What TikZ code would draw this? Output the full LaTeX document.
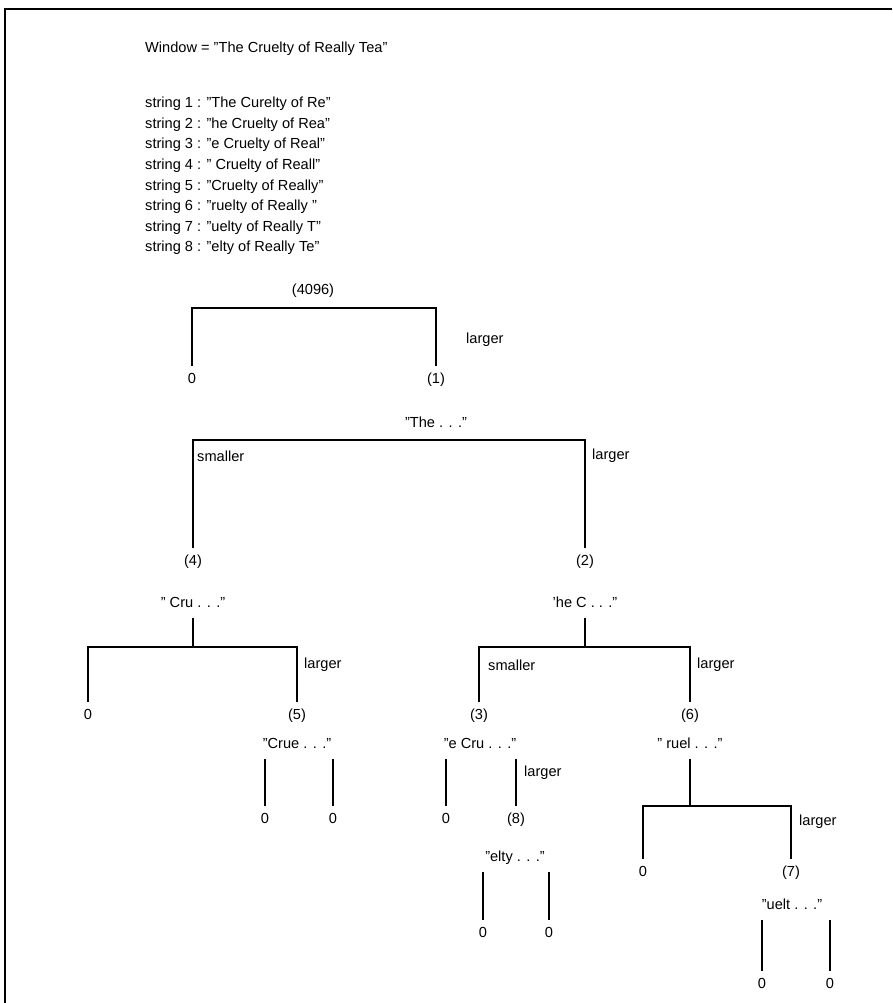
\documentclass[tikz,border=0pt]{standalone}
\usepackage{fontspec}
\setmainfont[Ligatures=ResetAll]{Liberation Sans}
\begin{document}
\begin{tikzpicture}[x=1pt,y=-1pt,
  txt/.style={font=\fontsize{14.6}{17}\selectfont, inner sep=0pt},
  lab/.style={txt, text height=10pt, text depth=3pt, outer sep=8pt},
  side/.style={txt, anchor=west},
  edge/.style={line width=1.3pt, line cap=rect},
  frameline/.style={line width=2pt}]
\useasboundingbox (0,0) rectangle (892,1003);
% frame
\coordinate (fTL) at (5,9);
\coordinate (fTR) at (892,9);
\coordinate (fBL) at (5,1003);
\draw[frameline] (fTR) -- (fTL) -- (fBL);
% header text
\node[side, anchor=base west] (win) at (145,53) {Window = "The Cruelty of Really Tea"};
\node[side, anchor=base west] (s1) at (145,108) {string 1 : "The Curelty of Re"};
\node[side, anchor=base west] (s2) at (145,128.5) {string 2 : "he Cruelty of Rea"};
\node[side, anchor=base west] (s3) at (145,149) {string 3 : "e Cruelty of Real"};
\node[side, anchor=base west] (s4) at (145,169.5) {string 4 : " Cruelty of Reall"};
\node[side, anchor=base west] (s5) at (145,190) {string 5 : "Cruelty of Really"};
\node[side, anchor=base west] (s6) at (145,210.5) {string 6 : "ruelty of Really "};
\node[side, anchor=base west] (s7) at (145,231) {string 7 : "uelty of Really T"};
\node[side, anchor=base west] (s8) at (145,251.5) {string 8 : "elty of Really Te"};
% level 0
\node[lab] (root) at (313,291) {(4096)};
\node[lab] (z0) at (192,380) {0};
\node[lab] (n1) at (436,380) {(1)};
\node[lab] (t1) at (436,424) {"The . . ."};
\coordinate (bar0) at (0,308);
\draw[edge] (z0.north) |- (bar0 -| n1.north) -- (n1.north);
\node[side] (lg0) at (466,340) {larger};
% level 1
\coordinate (bar1) at (0,440);
\node[lab] (n4) at (193,562) {(4)};
\node[lab] (n2) at (585,562) {(2)};
\draw[edge] (n4.north) |- (bar1 -| n2.north) -- (n2.north);
\node[side] (sm1) at (197,456) {smaller};
\node[side] (lg1) at (592,456) {larger};
\node[lab] (t4) at (193,604) {" Cru . . ."};
\node[lab] (t2) at (585,604) {'he C . . ."};
% level 2 left
\coordinate (bar2) at (0,647);
\node[lab] (z4) at (88,716) {0};
\node[lab] (n5) at (297,716) {(5)};
\draw[edge] (t4.south) -- (t4.south |- bar2);
\draw[edge] (z4.north) |- (bar2 -| n5.north) -- (n5.north);
\node[side] (lg4) at (304,665) {larger};
\node[lab] (t5) at (297,745) {"Crue . . ."};
\node[lab] (z5a) at (265,820) {0};
\node[lab] (z5b) at (333,820) {0};
\draw[edge] (z5a.north) -- (z5a.north |- t5.south);
\draw[edge] (z5b.north) -- (z5b.north |- t5.south);
% level 2 right
\node[lab] (n3) at (479,716) {(3)};
\node[lab] (n6) at (690,716) {(6)};
\draw[edge] (t2.south) -- (t2.south |- bar2);
\draw[edge] (n3.north) |- (bar2 -| n6.north) -- (n6.north);
\node[side] (sm2) at (488,665) {smaller};
\node[side] (lg2) at (697,665) {larger};
\node[lab] (t3) at (480,745) {"e Cru . . ."};
\node[lab] (z3) at (446,820) {0};
\node[lab] (n8) at (516,820) {(8)};
\draw[edge] (z3.north) -- (z3.north |- t3.south);
\draw[edge] (n8.north) -- (n8.north |- t3.south);
\node[side] (lg3) at (524,773) {larger};
\node[lab] (t8) at (515,858) {"elty . . ."};
\node[lab] (z8a) at (483,934) {0};
\node[lab] (z8b) at (549,934) {0};
\draw[edge] (z8a.north) -- (z8a.north |- t8.south);
\draw[edge] (z8b.north) -- (z8b.north |- t8.south);
% ruel subtree
\node[lab] (t6) at (690,745) {" ruel . . ."};
\coordinate (bar6) at (0,806);
\node[lab] (z6) at (643,873) {0};
\node[lab] (n7) at (791,873) {(7)};
\draw[edge] (t6.south) -- (t6.south |- bar6);
\draw[edge] (z6.north) |- (bar6 -| n7.north) -- (n7.north);
\node[side] (lg6) at (799,822) {larger};
\node[lab] (t7) at (792,906) {"uelt . . ."};
\node[lab] (z7a) at (762,985) {0};
\node[lab] (z7b) at (830,985) {0};
\draw[edge] (z7a.north) -- (z7a.north |- t7.south);
\draw[edge] (z7b.north) -- (z7b.north |- t7.south);
\end{tikzpicture}
\end{document}
